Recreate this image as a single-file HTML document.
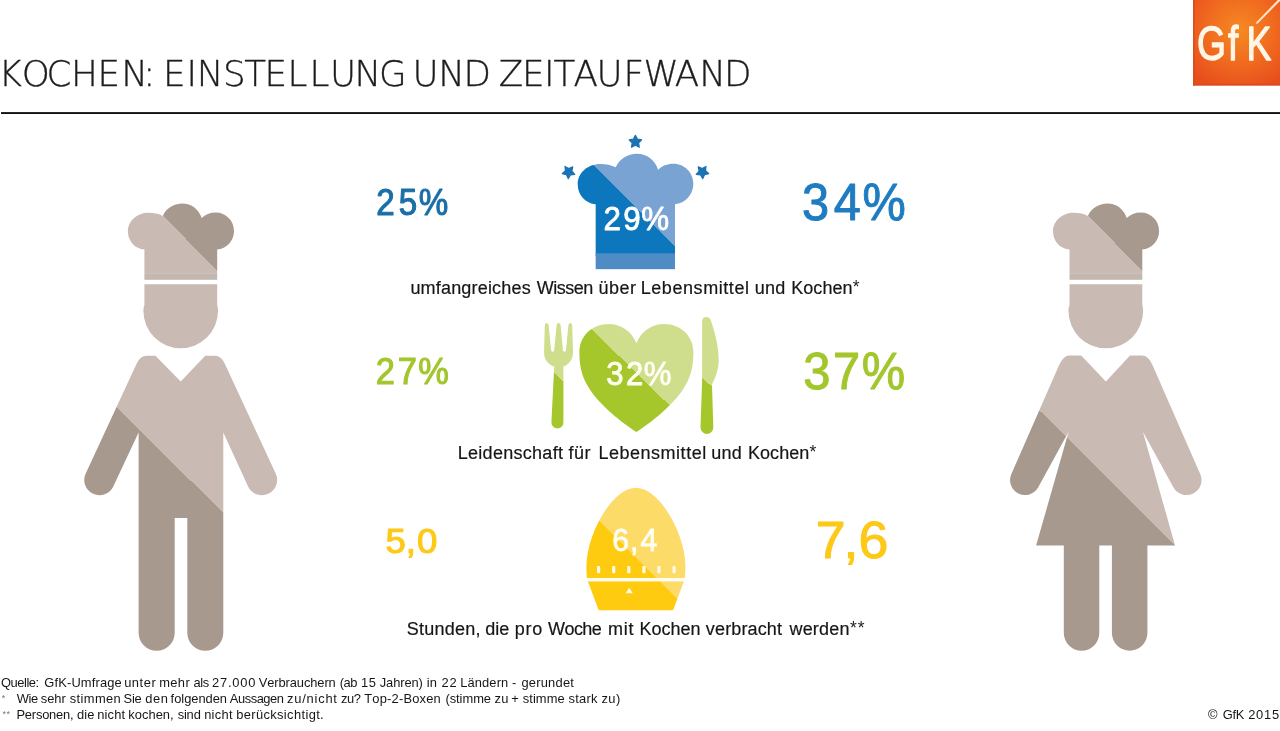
<!DOCTYPE html>
<html lang="de"><head><meta charset="utf-8"><title>Kochen: Einstellung und Zeitaufwand</title>
<style>
html,body{margin:0;padding:0;background:#fff;}
body{width:1280px;height:731px;overflow:hidden;position:relative;}
svg{position:absolute;left:0;top:0;display:block;font-family:"Liberation Sans","DejaVu Sans",sans-serif;font-kerning:none;}
text{white-space:pre}
.title{font-family:"DejaVu Sans Light","DejaVu Sans","Liberation Sans",sans-serif;font-weight:200}
.logo{font-family:"Liberation Sans",sans-serif}
</style></head><body>
<svg width="1280" height="731" viewBox="0 0 1280 731">
<rect x="1" y="112.1" width="1279" height="1.9" fill="#111111"/>
<radialGradient id="lg" gradientUnits="userSpaceOnUse" cx="1240" cy="30" r="62"><stop offset="0" stop-color="#f58a22"/><stop offset="0.55" stop-color="#f06a1f"/><stop offset="1" stop-color="#e84e1d"/></radialGradient>
<rect x="1193" y="0" width="87" height="85.5" fill="url(#lg)"/>
<rect x="1193" y="0" width="1.6" height="85.5" fill="#d9481c" opacity="0.8"/>
<rect x="1193" y="83.9" width="87" height="1.6" fill="#d9481c" opacity="0.8"/>
<path d="M1255.5,23 L1277.8,0 L1280,0 L1280,1 L1257.2,24 Z" fill="#fde3c8"/>
<linearGradient id="mh" gradientUnits="userSpaceOnUse" x1="147.19" y1="285.13" x2="233.11" y2="201.37"><stop offset="0.5" stop-color="#c9bbb4"/><stop offset="0.5" stop-color="#a8998f"/></linearGradient>
<linearGradient id="mb" gradientUnits="userSpaceOnUse" x1="128.23" y1="503.28" x2="212.67" y2="418.02"><stop offset="0.5" stop-color="#a8998f"/><stop offset="0.5" stop-color="#c9bbb4"/></linearGradient>
<path d="M144.40,273.70 L144.40,249.60 C135.20,249.00 127.90,241.30 127.90,231.30 C127.90,221.00 137.00,212.80 148.60,212.80 C154.00,212.80 159.00,213.80 162.80,215.90 C166.00,208.50 173.50,203.50 182.30,203.50 C191.50,203.50 199.00,209.50 201.70,218.00 C205.00,214.50 210.00,212.50 215.80,212.50 C226.00,212.50 234.00,220.70 234.00,231.00 C234.00,241.00 226.50,249.00 217.20,249.60 L217.20,273.70 Z" fill="url(#mh)"/>
<rect x="144.40" y="273.5" width="72.8" height="6.3" fill="#c4b7af"/>
<path d="M144.40,284.2 H217.20 V305 Q218.20,308 218.00,311 A37.3,37.3 0 0 1 143.40,311 Q143.20,308 144.40,305 Z" fill="#c9bbb4"/>
<path d="M146.5,355.8 L155.5,355.8 L180.7,381.6 L205.2,355.8 L214.9,355.8 Q221.1,355.8 224.7,363.5 L275.7,473.6 A15.2,15.2 0 0 1 248.1,486.4 L223.3,432.6 L223.3,632.8 A18,18 0 0 1 187.3,632.8 L187.3,518 L174.7,518 L174.7,632.8 A18.05,18.05 0 0 1 138.6,632.8 L138.6,432.6 L113.3,486.4 A15.2,15.2 0 0 1 85.7,473.6 L136.7,363.5 Q140.3,355.8 146.5,355.8 Z" fill="url(#mb)"/>
<linearGradient id="wh" gradientUnits="userSpaceOnUse" x1="1072.29" y1="285.13" x2="1158.21" y2="201.37"><stop offset="0.5" stop-color="#c9bbb4"/><stop offset="0.5" stop-color="#a8998f"/></linearGradient>
<linearGradient id="wb" gradientUnits="userSpaceOnUse" x1="1065.52" y1="521.07" x2="1150.18" y2="436.03"><stop offset="0.5" stop-color="#a8998f"/><stop offset="0.5" stop-color="#c9bbb4"/></linearGradient>
<path d="M1069.50,273.70 L1069.50,249.60 C1060.30,249.00 1053.00,241.30 1053.00,231.30 C1053.00,221.00 1062.10,212.80 1073.70,212.80 C1079.10,212.80 1084.10,213.80 1087.90,215.90 C1091.10,208.50 1098.60,203.50 1107.40,203.50 C1116.60,203.50 1124.10,209.50 1126.80,218.00 C1130.10,214.50 1135.10,212.50 1140.90,212.50 C1151.10,212.50 1159.10,220.70 1159.10,231.00 C1159.10,241.00 1151.60,249.00 1142.30,249.60 L1142.30,273.70 Z" fill="url(#wh)"/>
<rect x="1069.50" y="273.5" width="72.8" height="6.3" fill="#c4b7af"/>
<path d="M1069.50,284.2 H1142.30 V305 Q1143.30,308 1143.10,311 A37.3,37.3 0 0 1 1068.50,311 Q1068.30,308 1069.50,305 Z" fill="#c9bbb4"/>
<path d="M1069.5,355.6 L1081.2,355.6 L1105.9,381.5 L1130,355.6 L1142.1,355.6 Q1148.3,355.6 1152.7,365.5 L1200.2,473.9 A15,15 0 0 1 1173.5,487.5 L1142.9,431.8 L1175.1,545.5 L1147.4,545.5 L1147.4,633 A17.75,17.75 0 0 1 1111.9,633 L1111.9,545.5 L1099.3,545.5 L1099.3,633 A17.75,17.75 0 0 1 1063.8,633 L1063.8,545.5 L1036.1,545.5 L1068.6,431.8 L1038.1,487.5 A15,15 0 0 1 1011.4,473.9 L1058.9,365.5 Q1063.3,355.6 1069.5,355.6 Z" fill="url(#wb)"/>
<linearGradient id="bh" gradientUnits="userSpaceOnUse" x1="591.62" y1="248.28" x2="676.48" y2="163.42"><stop offset="0.5" stop-color="#0d77bd"/><stop offset="0.5" stop-color="#79a3d2"/></linearGradient>
<path d="M595.66,256.00 L595.66,204.14 C585.63,203.49 577.68,195.08 577.68,184.16 C577.68,172.91 587.59,163.96 600.24,163.96 C606.12,163.96 611.57,165.05 615.72,167.34 C619.20,159.26 627.38,153.80 636.97,153.80 C647.00,153.80 655.17,160.35 658.12,169.63 C661.71,165.81 667.16,163.63 673.49,163.63 C684.60,163.63 693.32,172.58 693.32,183.83 C693.32,194.75 685.15,203.49 675.01,204.14 L675.01,256.00 Z" fill="url(#bh)"/>
<rect x="595.66" y="253.4" width="79.35" height="15.8" fill="#4f8cc6"/>
<polygon points="635.40,135.30 637.40,139.15 641.68,139.86 638.63,142.95 639.28,147.24 635.40,145.30 631.52,147.24 632.17,142.95 629.12,139.86 633.40,139.15" fill="#1b73b3" stroke="#1b73b3" stroke-width="1.2" stroke-linejoin="round"/>
<polygon points="565.01,166.46 568.78,168.60 572.75,166.87 571.88,171.12 574.76,174.37 570.45,174.85 568.25,178.59 566.46,174.64 562.22,173.71 565.43,170.78" fill="#1b73b3" stroke="#1b73b3" stroke-width="1.2" stroke-linejoin="round"/>
<polygon points="705.99,166.46 705.57,170.78 708.78,173.71 704.54,174.64 702.75,178.59 700.55,174.85 696.24,174.37 699.12,171.12 698.25,166.87 702.22,168.60" fill="#1b73b3" stroke="#1b73b3" stroke-width="1.2" stroke-linejoin="round"/>
<linearGradient id="gh" gradientUnits="userSpaceOnUse" x1="588.20" y1="409.79" x2="672.10" y2="324.01"><stop offset="0.5" stop-color="#a5c72b"/><stop offset="0.5" stop-color="#cfde8d"/></linearGradient>
<path d="M636.4,431.9 C624,424 597,404 586.3,383.4 C580.5,373 579.4,362 579.4,352 C579.4,336 592,323.9 608.5,323.9 C622,323.9 632,332 636.4,343.2 C640.8,332 650.8,323.9 664.3,323.9 C680.8,323.9 693.4,336 693.4,352 C693.4,362 692.3,373 686.5,383.4 C675.8,404 648.8,424 636.4,431.9 Z" fill="url(#gh)"/>
<linearGradient id="gf" gradientUnits="userSpaceOnUse" x1="518.17" y1="421.34" x2="599.13" y2="332.76"><stop offset="0.5" stop-color="#a5c72b"/><stop offset="0.5" stop-color="#cfde8d"/></linearGradient>
<path d="M546.6,323.1 C547.7,323.1 548.5,324 548.7,326 L551.1,350 Q551.3,351.8 552.7,351.8 Q554.1,351.8 554.2,350 L556.5,326 C556.7,324 557.5,323.1 558.6,323.1 C559.7,323.1 560.5,324 560.7,326 L562.9,350 Q563.1,351.8 564.5,351.8 Q565.9,351.8 566.0,350 L568.3,326 C568.5,324 569.3,323.1 570.4,323.1 C571.4,323.1 572,324 572.2,326 L573,352 C573.2,360 568,365 563.4,366.5 L563.4,422.5 A5.9,5.9 0 0 1 551.4,422.5 L554.2,366.5 C549,365 543.8,360 544,352 L544.8,326 C545,324 545.6,323.1 546.6,323.1 Z" fill="url(#gf)"/>
<linearGradient id="gk" gradientUnits="userSpaceOnUse" x1="667.44" y1="427.32" x2="746.66" y2="337.18"><stop offset="0.5" stop-color="#a5c72b"/><stop offset="0.5" stop-color="#cfde8d"/></linearGradient>
<path d="M702.1,321.5 C702.1,318.5 704,317.1 706.3,317.1 C708.6,317.1 710.2,318.3 710.9,320.5 C714.5,331 718.7,346 718.7,360 C718.7,371 714.5,379 712,384.5 L713.3,427.5 A6.4,6.4 0 0 1 700.5,427.5 L702.1,381 Z" fill="url(#gk)"/>
<linearGradient id="ye" gradientUnits="userSpaceOnUse" x1="595.57" y1="602.13" x2="680.43" y2="517.27"><stop offset="0.5" stop-color="#fecb10"/><stop offset="0.5" stop-color="#fddb68"/></linearGradient>
<path d="M635.9,487.8 C660,487.8 685.4,535 685.4,566 C685.4,571 685.2,575 684.6,579.5 L673.4,609.6 Q673,610.3 672.2,610.3 L599.6,610.3 Q598.8,610.3 598.4,609.6 L587.2,579.5 C586.6,575 586.4,571 586.4,566 C586.4,535 612,487.8 635.9,487.8 Z" fill="url(#ye)"/>
<rect x="586" y="578" width="100" height="3.4" fill="#fffdf2"/>
<rect x="597.0" y="566" width="3.2" height="7.2" rx="1" fill="#fffbe6"/>
<rect x="612.1" y="566" width="3.2" height="7.2" rx="1" fill="#fffbe6"/>
<rect x="627.2" y="566" width="3.2" height="7.2" rx="1" fill="#fffbe6"/>
<rect x="642.3" y="566" width="3.2" height="7.2" rx="1" fill="#fffbe6"/>
<rect x="657.4" y="566" width="3.2" height="7.2" rx="1" fill="#fffbe6"/>
<rect x="672.5" y="566" width="3.2" height="7.2" rx="1" fill="#fffbe6"/>
<path d="M629.2,587.8 L632.7,593.2 L625.7,593.2 Z" fill="#fffbe6"/>
<text class="title" x="-1.6 21.8 46.5 71.1 97.6 121.2 143.2 155.2 163.1 186.6 196.8 223.0 244.3 264.6 287.4 309.4 329.9 354.5 379.0 406.6 412.4 438.2 463.6 491.1 498.8 522.1 544.0 553.6 573.4 596.4 623.5 643.6 674.7 699.2 723.9" y="86.4" font-size="35.7" fill="#1d1d1b" stroke="#1d1d1b" stroke-width="0.35">KOCHEN: EINSTELLUNG UND ZEITAUFWAND</text>
<text transform="scale(0.76,1)" x="1575.16 1615.84 1640.08" y="60.0" font-size="49.0" fill="#fff6e8" stroke="#fff6e8" stroke-width="1.3" stroke-linejoin="round" class="logo">GfK</text>
<text transform="scale(0.904,1)" x="416.24 440.99 463.21" y="214.6" font-size="36.7" fill="#1a6fa6" stroke="#1a6fa6" stroke-width="1.1" stroke-linejoin="round" class="num">25%</text>
<text transform="scale(0.936,1)" x="856.84 890.78 921.49" y="220.3" font-size="52.0" fill="#1f7cc0" stroke="#1f7cc0" stroke-width="1.0" stroke-linejoin="round" class="num">34%</text>
<text transform="scale(0.936,1)" x="644.80 665.81 685.12" y="230.1" font-size="33.5" fill="#ffffff" stroke="#ffffff" stroke-width="0.8" stroke-linejoin="round" class="num">29%</text>
<text transform="scale(0.946,1)" x="397.30 420.49 442.25" y="383.8" font-size="36.4" fill="#a3c62d" stroke="#a3c62d" stroke-width="1.1" stroke-linejoin="round" class="num">27%</text>
<text transform="scale(0.956,1)" x="840.25 871.26 901.33" y="389.0" font-size="51.1" fill="#a3c62d" stroke="#a3c62d" stroke-width="1.0" stroke-linejoin="round" class="num">37%</text>
<text transform="scale(0.925,1)" x="655.40 676.86 695.84" y="385.1" font-size="33.7" fill="#fffef2" stroke="#fffef2" stroke-width="0.8" stroke-linejoin="round" class="num">32%</text>
<text transform="scale(1.024,1)" x="376.52 396.20 407.15" y="552.7" font-size="35.7" fill="#fdc919" stroke="#fdc919" stroke-width="1.1" stroke-linejoin="round" class="num">5,0</text>
<text transform="scale(1.053,1)" x="774.71 801.06 815.29" y="557.8" font-size="51.0" fill="#fdc919" stroke="#fdc919" stroke-width="1.0" stroke-linejoin="round" class="num">7,6</text>
<text transform="scale(0.939,1)" x="652.16 671.01 682.17" y="551.0" font-size="32.2" fill="#fffef2" stroke="#fffef2" stroke-width="0.8" stroke-linejoin="round" class="num">6,4</text>
<text y="293.9" font-size="18" fill="#161616" class="lab" stroke="#161616" stroke-width="0.2" stroke-linejoin="round"><tspan x="410.43" letter-spacing="0.180">umfangreiches </tspan><tspan x="536.82" letter-spacing="-0.492">Wissen </tspan><tspan x="598.48" letter-spacing="0.531">über </tspan><tspan x="640.72" letter-spacing="0.566">Lebensmittel </tspan><tspan x="754.83" letter-spacing="0.198">und </tspan><tspan x="791.32" letter-spacing="0.019">Kochen</tspan></text>
<text y="458.7" font-size="18" fill="#161616" class="lab" stroke="#161616" stroke-width="0.2" stroke-linejoin="round"><tspan x="457.72" letter-spacing="0.285">Leidenschaft </tspan><tspan x="568.45" letter-spacing="0.574">für </tspan><tspan x="598.42" letter-spacing="0.520">Lebensmittel </tspan><tspan x="711.23" letter-spacing="0.248">und </tspan><tspan x="748.02" letter-spacing="0.039">Kochen</tspan></text>
<text y="634.6" font-size="18" fill="#161616" class="lab" stroke="#161616" stroke-width="0.2" stroke-linejoin="round"><tspan x="406.68" letter-spacing="0.239">Stunden, </tspan><tspan x="485.14" letter-spacing="0.018">die </tspan><tspan x="514.74" letter-spacing="0.800">pro </tspan><tspan x="548.02" letter-spacing="-0.561">Woche </tspan><tspan x="607.90" letter-spacing="0.817">mit </tspan><tspan x="639.42" letter-spacing="0.019">Kochen </tspan><tspan x="705.84" letter-spacing="0.145">verbracht </tspan><tspan x="789.43" letter-spacing="0.221">werden</tspan></text>
<text y="292.9" font-size="17.5" fill="#222" class="lab"><tspan x="852.72">*</tspan></text>
<text y="457.7" font-size="17.5" fill="#222" class="lab"><tspan x="809.52">*</tspan></text>
<text y="633.6" font-size="17.5" fill="#222" class="lab"><tspan x="850.12" letter-spacing="0.935">**</tspan></text>
<text y="687.4" font-size="12.9" fill="#161616" class="ft"><tspan x="0.89" letter-spacing="-0.431">Quelle: </tspan><tspan x="44.35" letter-spacing="0.144">GfK-Umfrage </tspan><tspan x="124.16" letter-spacing="0.537">unter </tspan><tspan x="159.14" letter-spacing="0.393">mehr </tspan><tspan x="193.52" letter-spacing="-0.452">als </tspan><tspan x="212.01" letter-spacing="0.774">27.000 </tspan><tspan x="258.74" letter-spacing="-0.097">Verbrauchern </tspan><tspan x="339.70" letter-spacing="-0.401">(ab </tspan><tspan x="361.02" letter-spacing="0.676">15 </tspan><tspan x="379.80" letter-spacing="-0.123">Jahren) </tspan><tspan x="426.64" letter-spacing="0.360">in </tspan><tspan x="441.44" letter-spacing="0.774">22 </tspan><tspan x="460.14" letter-spacing="0.142">Ländern </tspan><tspan x="511.93">- </tspan><tspan x="521.46" letter-spacing="0.216">gerundet</tspan></text>
<text y="703.3" font-size="12.9" fill="#161616" class="ft"><tspan x="16.85" letter-spacing="-0.452">Wie </tspan><tspan x="40.84" letter-spacing="-0.074">sehr </tspan><tspan x="69.64" letter-spacing="0.409">stimmen </tspan><tspan x="123.61" letter-spacing="-0.243">Sie </tspan><tspan x="145.26" letter-spacing="0.528">den </tspan><tspan x="170.62" letter-spacing="-0.031">folgenden </tspan><tspan x="229.80" letter-spacing="-0.452">Aussagen </tspan><tspan x="287.10" letter-spacing="0.774">zu/nicht </tspan><tspan x="341.03" letter-spacing="-0.452">zu? </tspan><tspan x="364.21" letter-spacing="0.206">Top-2-Boxen </tspan><tspan x="445.40" letter-spacing="-0.031">(stimme </tspan><tspan x="494.48" letter-spacing="0.255">zu </tspan><tspan x="511.37">+ </tspan><tspan x="522.64" letter-spacing="0.113">stimme </tspan><tspan x="568.44" letter-spacing="0.271">stark </tspan><tspan x="601.48" letter-spacing="0.451">zu)</tspan></text>
<text y="718.8" font-size="12.9" fill="#161616" class="ft"><tspan x="16.44" letter-spacing="-0.199">Personen, </tspan><tspan x="76.96" letter-spacing="0.100">die </tspan><tspan x="97.34" letter-spacing="0.126">nicht </tspan><tspan x="128.33" letter-spacing="0.024">kochen, </tspan><tspan x="177.64" letter-spacing="-0.158">sind </tspan><tspan x="204.14" letter-spacing="0.301">nicht </tspan><tspan x="236.17" letter-spacing="0.368">berücksichtigt.</tspan></text>
<text y="700.6" font-size="9" fill="#777" class="ft"><tspan x="1.85">*</tspan></text>
<text y="716.6" font-size="9" fill="#777" class="ft"><tspan x="2.53" letter-spacing="0.540">**</tspan></text>
<text y="719.4" font-size="12.9" fill="#161616" class="ft"><tspan x="1208.10">© </tspan><tspan x="1222.85" letter-spacing="-0.364">GfK </tspan><tspan x="1248.15" letter-spacing="0.764">2015</tspan></text>
</svg>
</body></html>
